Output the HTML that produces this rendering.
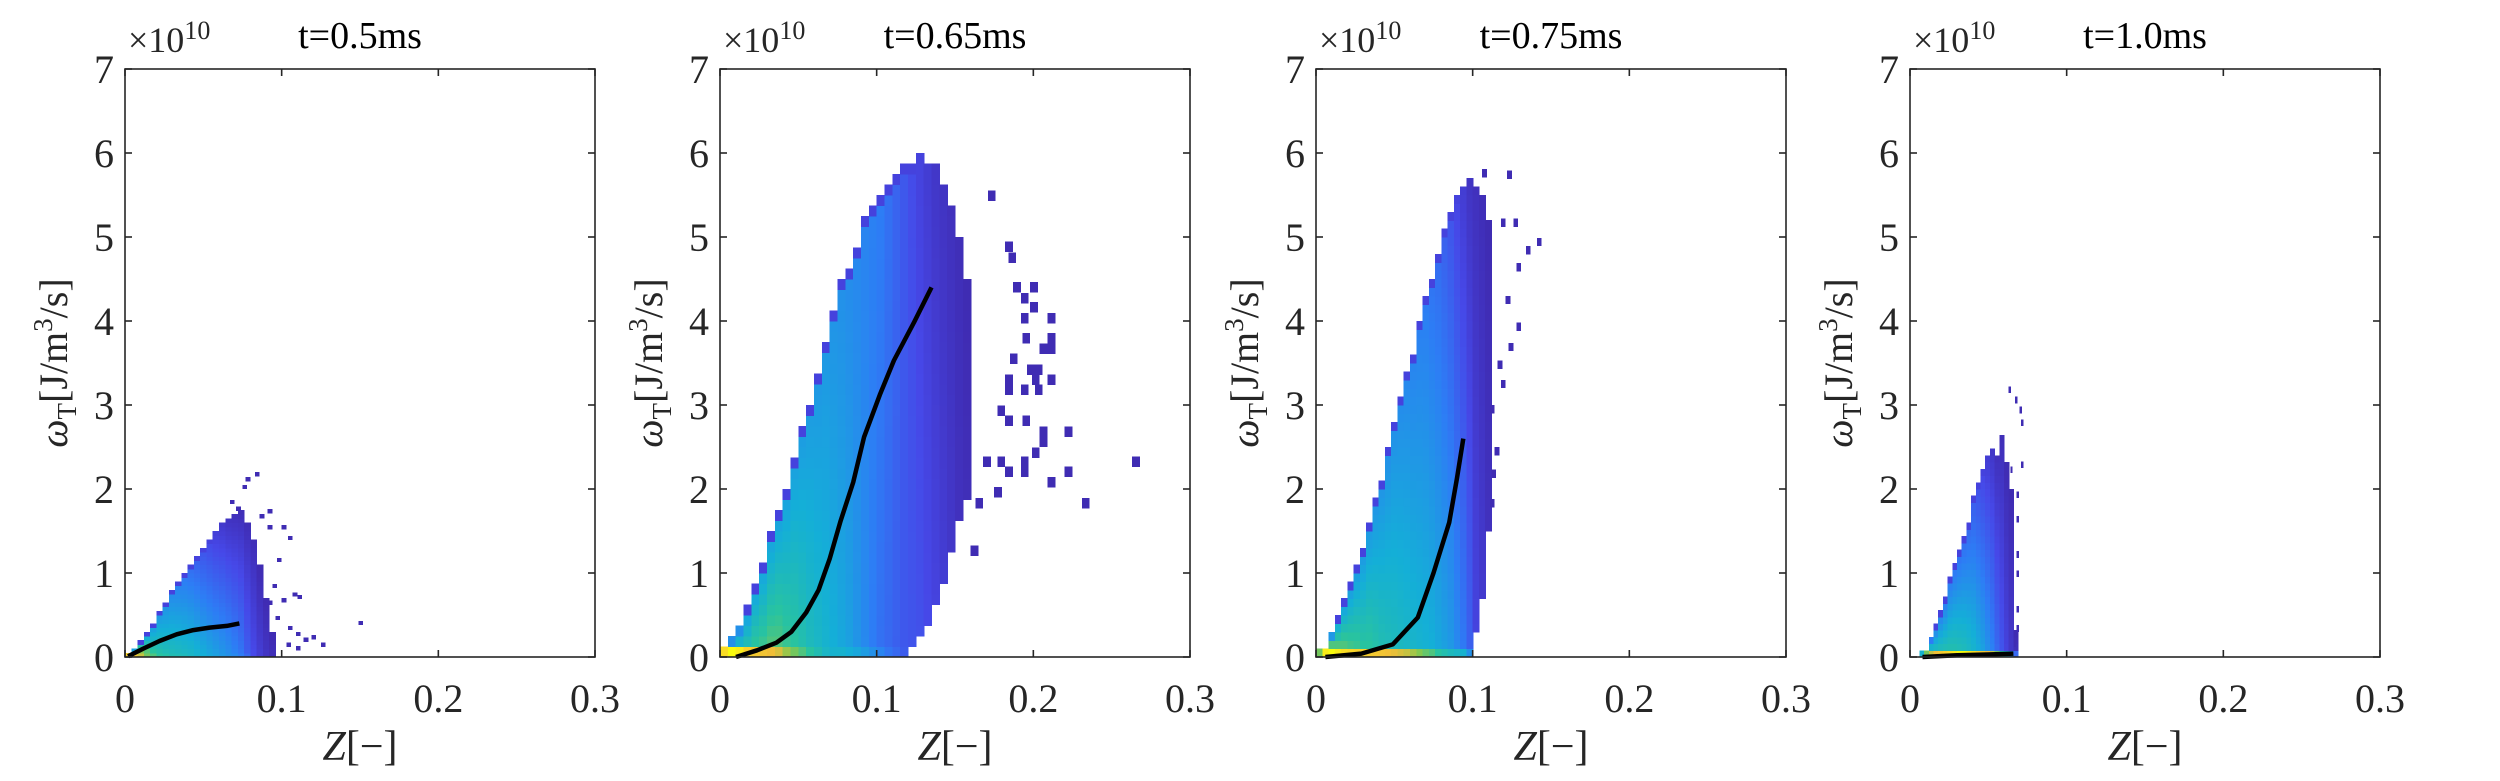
<!DOCTYPE html>
<html><head><meta charset="utf-8"><style>
html,body{margin:0;padding:0;background:#fff;}
svg{display:block;font-family:"Liberation Serif",serif;}
</style></head><body>
<svg id="fig" width="2500" height="781" viewBox="0 0 2500 781" xmlns="http://www.w3.org/2000/svg"></svg>
<script>
// ---------- data ----------
const panelTitles = ["t=0.5ms","t=0.65ms","t=0.75ms","t=1.0ms"];
const xTicks = [0,0.1,0.2,0.3];
const xTickLabels = ["0","0.1","0.2","0.3"];
const yTicks = [0,1,2,3,4,5,6,7];
const yTickLabels = ["0","1","2","3","4","5","6","7"];

// panel 1 (t=0.5ms)
const p1Z = [0,0.004,0.008,0.012,0.016,0.02,0.024,0.028,0.032,0.036,0.04,0.044,0.048,0.052,0.056,0.06,0.064,0.068,0.072,0.076,0.08,0.084,0.088,0.092];
const p1Lo = [0,0,0,0,0,0,0,0,0,0,0,0,0,0,0,0,0,0,0,0,0,0,0,0];
const p1Hi = [0.05,0.12,0.22,0.32,0.42,0.54,0.66,0.78,0.9,1.0,1.1,1.2,1.3,1.4,1.5,1.58,1.65,1.7,1.75,1.6,1.4,1.1,0.7,0.3];
const p1Base = [0.85,0.8,0.7,0.6,0.55,0.5,0.48,0.46,0.45,0.44,0.42,0.4,0.38,0.36,0.34,0.32,0.3,0.28,0.25,0.2,0.12,0.08,0.05,0.03];
const p1LvLo = [0.8,0.75,0.62,0.56,0.5,0.47,0.45,0.44,0.43,0.42,0.41,0.39,0.37,0.35,0.33,0.31,0.29,0.26,0.23,0.17,0.12,0.08,0.05,0.03];
const p1LvHi = [0.4,0.35,0.34,0.33,0.32,0.31,0.3,0.28,0.26,0.24,0.21,0.18,0.15,0.12,0.09,0.07,0.05,0.04,0.03,0.03,0.03,0.02,0.02,0.02];
const p1OutZ = [0.083,0.077,0.075,0.067,0.071,0.091,0.086,0.1,0.091,0.104,0.097,0.107,0.11,0.1,0.096,0.104,0.109,0.114,0.119,0.125,0.149,0.109,0.103,0.091,0.094];
const p1OutY = [2.15,2.09,2.0,1.82,1.74,1.71,1.65,1.52,1.52,1.39,1.13,0.72,0.69,0.65,0.44,0.32,0.25,0.18,0.21,0.12,0.38,0.08,0.12,0.62,0.82];
const p1LineZ = [0.002,0.0117,0.022,0.033,0.0436,0.054,0.065,0.073];
const p1LineY = [0.01,0.1,0.19,0.27,0.32,0.35,0.37,0.40];

// panel 2 (t=0.65ms)
const p2Z = [0,0.005,0.01,0.015,0.02,0.025,0.03,0.035,0.04,0.045,0.05,0.055,0.06,0.065,0.07,0.075,0.08,0.085,0.09,0.095,0.1,0.105,0.11,0.115,0.12,0.125,0.13,0.135,0.14,0.145,0.15,0.155];
const p2Lo = [0,0,0,0,0,0,0,0,0,0,0,0,0,0,0,0,0,0,0,0,0,0,0,0,0.125,0.25,0.375,0.625,0.875,1.25,1.625,1.875];
const p2Hi = [0.125,0.25,0.375,0.625,0.875,1.125,1.5,1.75,2.0,2.375,2.75,3.0,3.375,3.75,4.125,4.5,4.625,4.875,5.25,5.375,5.5,5.625,5.75,5.875,5.875,6.0,5.875,5.875,5.625,5.375,5.0,4.5];
const p2Base = [0.9,1.0,0.95,0.85,0.8,0.78,0.75,0.72,0.65,0.6,0.55,0.5,0.46,0.42,0.4,0.4,0.38,0.36,0.33,0.3,0.27,0.23,0.2,0.17,0.1,0.08,0.06,0.05,0.04,0.03,0.02,0.02];
const p2LvLo = [0.4,0.3,0.4,0.45,0.5,0.52,0.55,0.55,0.52,0.5,0.47,0.44,0.42,0.4,0.38,0.36,0.34,0.31,0.28,0.25,0.22,0.2,0.18,0.16,0.15,0.14,0.12,0.1,0.08,0.06,0.04,0.03];
const p2LvHi = [0.4,0.3,0.3,0.32,0.34,0.34,0.34,0.34,0.34,0.34,0.33,0.33,0.32,0.32,0.31,0.3,0.29,0.28,0.27,0.26,0.25,0.22,0.19,0.16,0.13,0.1,0.08,0.06,0.05,0.04,0.03,0.02];
const p2OutZ = [0.171,0.182,0.184,0.187,0.198,0.192,0.198,0.209,0.192,0.209,0.193,0.209,0.204,0.185,0.196,0.201,0.209,0.199,0.182,0.201,0.182,0.192,0.177,0.182,0.193,0.204,0.22,0.204,0.199,0.192,0.177,0.168,0.182,0.192,0.22,0.263,0.209,0.175,0.231,0.163,0.16];
const p2OutY = [5.43,4.82,4.69,4.34,4.34,4.21,4.1,3.97,3.97,3.73,3.73,3.61,3.61,3.49,3.36,3.36,3.24,3.24,3.24,3.12,3.12,3.12,2.87,2.75,2.75,2.62,2.62,2.5,2.37,2.26,2.26,2.26,2.14,2.14,2.14,2.26,2.02,1.9,1.77,1.77,1.2];
const p2LineZ = [0.0102,0.0237,0.036,0.0456,0.055,0.063,0.07,0.077,0.085,0.092,0.102,0.111,0.124,0.135];
const p2LineY = [0,0.08,0.17,0.3,0.53,0.8,1.17,1.62,2.08,2.62,3.12,3.53,3.99,4.4];

// panel 3 (t=0.75ms)
const p3Z = [0,0.004,0.008,0.012,0.016,0.02,0.024,0.028,0.032,0.036,0.04,0.044,0.048,0.052,0.056,0.06,0.064,0.068,0.072,0.076,0.08,0.084,0.088,0.092,0.096,0.1,0.104,0.108];
const p3Lo = [0,0,0,0,0,0,0,0,0,0,0,0,0,0,0,0,0,0,0,0,0,0,0,0,0,0.3,0.7,1.5];
const p3Hi = [0.1,0.15,0.3,0.5,0.7,0.9,1.1,1.3,1.55,1.85,2.15,2.5,2.8,3.1,3.35,3.6,3.95,4.25,4.55,4.85,5.1,5.3,5.45,5.6,5.7,5.6,5.45,5.2];
const p3Base = [0.6,0.95,1,0.95,0.9,0.88,0.85,0.85,0.82,0.8,0.78,0.76,0.74,0.72,0.7,0.66,0.62,0.58,0.55,0.5,0.47,0.44,0.42,0.4,0.3,0.1,0.05,0.03];
const p3LvLo = [0.45,0.5,0.55,0.55,0.55,0.53,0.52,0.5,0.5,0.48,0.46,0.45,0.44,0.43,0.42,0.41,0.4,0.39,0.38,0.36,0.34,0.32,0.28,0.24,0.18,0.1,0.07,0.04];
const p3LvHi = [0.35,0.33,0.32,0.32,0.32,0.32,0.32,0.32,0.32,0.31,0.31,0.3,0.3,0.29,0.28,0.27,0.26,0.25,0.23,0.21,0.18,0.15,0.11,0.08,0.05,0.04,0.03,0.02];
const p3OutZ = [0.122,0.106,0.141,0.134,0.126,0.118,0.128,0.121,0.123,0.128,0.118,0.116,0.111,0.111,0.114,0.112];
const p3OutY = [5.69,5.71,4.89,4.79,5.12,5.12,4.59,4.2,3.64,3.88,3.2,3.43,2.9,1.78,2.4,2.13];
const p3LineZ = [0.006,0.029,0.049,0.065,0.075,0.085,0.09,0.094];
const p3LineY = [0,0.04,0.15,0.47,1.0,1.6,2.13,2.6];

// panel 4 (t=1.0ms)
const p4Z = [0.006,0.009,0.012,0.015,0.018,0.021,0.024,0.027,0.03,0.033,0.036,0.039,0.042,0.045,0.048,0.051,0.054,0.057,0.06,0.063,0.066];
const p4Lo = [0,0,0,0,0,0,0,0,0,0,0,0,0,0,0,0,0,0,0,0,0];
const p4Hi = [0.05,0.1,0.25,0.4,0.55,0.75,0.95,1.1,1.3,1.45,1.6,1.9,2.1,2.25,2.4,2.45,2.4,2.6,2.3,2.0,0.3];
const p4Base = [0.4,0.6,0.7,0.75,0.8,0.85,0.9,0.95,1,1,0.95,0.9,0.85,0.8,0.75,0.7,0.6,0.5,0.4,0.3,0.2];
const p4LvLo = [0.3,0.35,0.4,0.42,0.44,0.45,0.46,0.46,0.45,0.44,0.42,0.4,0.37,0.34,0.3,0.26,0.2,0.15,0.1,0.06,0.03];
const p4LvHi = [0.25,0.25,0.25,0.25,0.25,0.24,0.24,0.23,0.22,0.21,0.2,0.17,0.14,0.11,0.08,0.06,0.04,0.03,0.02,0.02,0.02];
const p4OutZ = [0.063,0.067,0.07,0.071,0.071,0.068,0.068,0.068,0.068,0.068,0.068,0.066,0.064];
const p4OutY = [3.14,3.02,2.9,2.75,2.25,1.89,1.6,1.18,0.95,0.53,0.3,0.12,2.19];
const p4LineZ = [0.008,0.03,0.05,0.066];
const p4LineY = [0,0.02,0.03,0.04];

// ---------- rendering ----------
const NS = "http://www.w3.org/2000/svg";
const svg = document.getElementById("fig");
const panelLeft = [125,720,1316,1910];
const AW = 470, TOP = 69, BOT = 657;
const xMax = 0.3, yMax = 7;
const binW = [0.004,0.005,0.004,0.003];
const binH = [0.05,0.125,0.1,0.08];
const outW = [0.003,0.005,0.003,0.0015];
const cols = [[p1Z,p1Lo,p1Hi,p1Base,p1LvLo,p1LvHi],[p2Z,p2Lo,p2Hi,p2Base,p2LvLo,p2LvHi],[p3Z,p3Lo,p3Hi,p3Base,p3LvLo,p3LvHi],[p4Z,p4Lo,p4Hi,p4Base,p4LvLo,p4LvHi]];
const outs = [[p1OutZ,p1OutY],[p2OutZ,p2OutY],[p3OutZ,p3OutY],[p4OutZ,p4OutY]];
const lines = [[p1LineZ,p1LineY],[p2LineZ,p2LineY],[p3LineZ,p3LineY],[p4LineZ,p4LineY]];

const parula = [[0,62,38,168],[0.12,70,72,232],[0.25,45,125,245],[0.38,20,175,215],[0.5,40,195,160],[0.62,130,200,80],[0.75,240,190,55],[0.88,250,215,40],[1,249,251,14]];
function cmap(v){v=Math.max(0,Math.min(1,v));for(let i=1;i<parula.length;i++){if(v<=parula[i][0]){const a=parula[i-1],b=parula[i],t=(v-a[0])/(b[0]-a[0]);return `rgb(${Math.round(a[1]+(b[1]-a[1])*t)},${Math.round(a[2]+(b[2]-a[2])*t)},${Math.round(a[3]+(b[3]-a[3])*t)})`;}}return "rgb(249,251,14)";}
function mk(tag,attrs,parent){const e=document.createElementNS(NS,tag);for(const k in attrs)e.setAttribute(k,attrs[k]);(parent||svg).appendChild(e);return e;}

for(let p=0;p<4;p++){
  const L=panelLeft[p];
  const sx=z=>L+z/xMax*AW;
  const sy=y=>BOT-y/yMax*(BOT-TOP);
  const g=mk("g",{});
  
  
  const hm=mk("g",{"shape-rendering":"crispEdges"},g);
  
  
  const [Z,Lo,Hi,Base,LvLo,LvHi]=cols[p];
  for(let i=0;i<Z.length;i++){
    const bh=binH[p];
    const n=Math.max(1,Math.round((Hi[i]-Lo[i])/bh));
    for(let k=0;k<n;k++){
      const y0=Lo[i]+k*bh;
      let lv;
      if(Lo[i]===0&&k===0) lv=Base[i];
      else {const t=n>2?(k-1)/(n-2):1; lv=LvLo[i]+(LvHi[i]-LvLo[i])*t;}
      if(k===n-1&&n>3) lv=Math.min(lv,0.1);
      const r=mk("rect",{x:sx(Z[i]).toFixed(2),y:sy(y0+bh).toFixed(2),width:(sx(binW[p])-L+0.6).toFixed(2),height:(sy(0)-sy(bh)+0.6).toFixed(2),fill:cmap(lv)},hm);
      
      
    }
  }
  const [OZ,OY]=outs[p];
  for(let i=0;i<OZ.length;i++){
    const r=mk("rect",{x:sx(OZ[i]).toFixed(2),y:sy(OY[i]+binH[p]).toFixed(2),width:(sx(outW[p])-L).toFixed(2),height:(sy(0)-sy(binH[p])).toFixed(2),fill:cmap(0.02)},hm);
    
    
  }
  const [LZ,LY]=lines[p];
  let d="";for(let i=0;i<LZ.length;i++)d+=(i?"L":"M")+sx(LZ[i]).toFixed(1)+" "+sy(LY[i]).toFixed(1);
  const ln=mk("path",{d:d,fill:"none",stroke:"#000","stroke-width":4.5,"stroke-linejoin":"round"},g);
  
  
  const box=mk("rect",{x:L,y:TOP,width:AW,height:BOT-TOP,fill:"none",stroke:"#262626","stroke-width":1.6},g);
  
  
  for(let i=0;i<xTicks.length;i++){
    const x=sx(xTicks[i]);
    mk("line",{x1:x,x2:x,y1:BOT,y2:BOT-7,stroke:"#262626","stroke-width":1.6},g);
    mk("line",{x1:x,x2:x,y1:TOP,y2:TOP+7,stroke:"#262626","stroke-width":1.6},g);
    const t=mk("text",{x:x,y:712,"text-anchor":"middle","font-size":40,fill:"#262626"},g);
    t.textContent=xTickLabels[i];
    
    
  }
  for(let i=0;i<yTicks.length;i++){
    const y=sy(yTicks[i]);
    mk("line",{x1:L,x2:L+7,y1:y,y2:y,stroke:"#262626","stroke-width":1.6},g);
    mk("line",{x1:L+AW,x2:L+AW-7,y1:y,y2:y,stroke:"#262626","stroke-width":1.6},g);
    const t=mk("text",{x:L-11,y:y+14,"text-anchor":"end","font-size":40,fill:"#262626"},g);
    t.textContent=yTickLabels[i];
    
    
  }
  const ex=mk("text",{x:L+3,y:52,"font-size":36,fill:"#262626"},g);
  ex.innerHTML='×10<tspan dy="-13" font-size="26">10</tspan>';
  
  
  const tt=mk("text",{x:L+AW/2,y:48,"text-anchor":"middle","font-size":38,fill:"#000"},g);
  tt.textContent=panelTitles[p];
  
  
  const xl=mk("text",{x:L+AW/2,y:760,"text-anchor":"middle","font-size":42,fill:"#262626"},g);
  xl.innerHTML='<tspan font-style="italic">Z</tspan>[−]';
  
  
  const cy=(TOP+BOT)/2;
  const yl=mk("text",{x:0,y:0,"text-anchor":"middle","font-size":40,fill:"#262626",transform:`translate(${L-58},${cy}) rotate(-90)`},g);
  yl.innerHTML='<tspan font-style="italic">ω</tspan><tspan font-size="27" dy="9">T</tspan><tspan dy="-9">[J/m</tspan><tspan font-size="27" dy="-15">3</tspan><tspan dy="15">/s]</tspan>';
  
  
}
</script>
</body></html>
